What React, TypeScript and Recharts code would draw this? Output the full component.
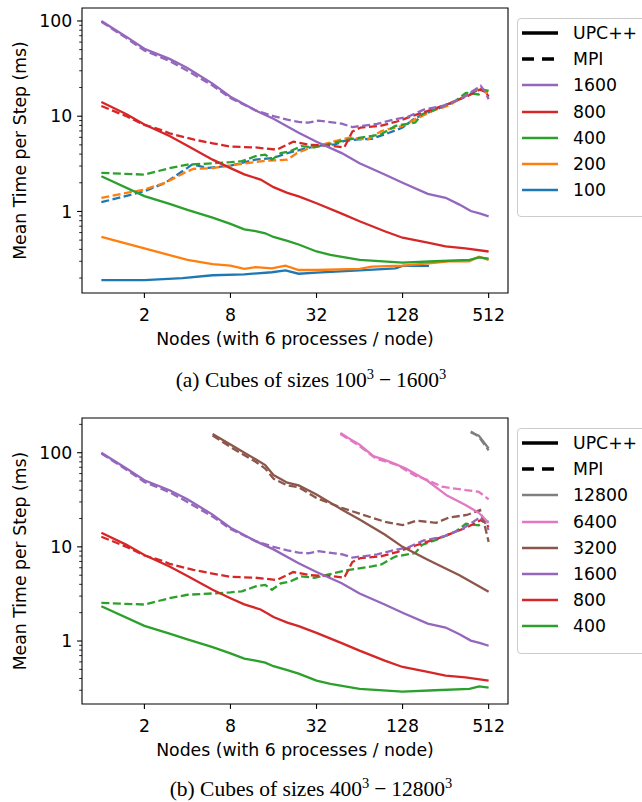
import { LineChart, Line, XAxis, YAxis, ReferenceArea } from "recharts";

type Pt = [number, number];

// axis ticks
const nodeTicks = [2, 8, 32, 128, 512];
const majorTimes = [1, 10, 100];
const minorMantissas = [2, 3, 4, 5, 6, 7, 8, 9];

// [nodes, mean time per step in ms]
const upc100: Pt[] = [[1, 0.19], [2, 0.19], [3.7, 0.2], [6, 0.214], [10, 0.219], [15.6, 0.23], [19.4, 0.241], [24, 0.222], [32, 0.228], [64, 0.241], [114, 0.253], [128, 0.268], [196, 0.268]];
const mpi100: Pt[] = [[1, 1.25], [2, 1.63], [2.8, 2.0], [4, 2.87], [4.3, 3.1], [5.6, 2.87], [8, 3.03], [12, 3.5], [16, 3.65], [20, 4.1], [25, 4.46], [32, 4.87], [43, 5.07], [50, 5.5], [63, 5.7], [78, 5.8], [103, 6.7], [128, 7.6], [157, 9.6], [205, 11.3], [270, 13.3], [437, 19.1], [512, 17.6]];

const upc200: Pt[] = [[1, 0.54], [2, 0.41], [4, 0.31], [6, 0.28], [8, 0.27], [10, 0.25], [12, 0.26], [15.6, 0.253], [19.4, 0.27], [24, 0.243], [32, 0.243], [64, 0.25], [78, 0.263], [128, 0.27], [195, 0.285], [270, 0.3], [375, 0.3], [437, 0.335], [512, 0.31]];
const mpi200: Pt[] = [[1, 1.39], [2, 1.7], [2.8, 2.0], [4, 2.64], [4.4, 2.8], [6, 2.85], [8, 3.05], [14, 3.4], [20, 3.5], [23.4, 4.1], [29, 4.67], [32, 4.87], [54, 5.95], [73, 5.7], [91, 7.0], [128, 7.9], [157, 9.3], [210, 11.5], [270, 13], [437, 19.9], [512, 16.9]];

const upc400: Pt[] = [[1, 2.34], [2, 1.45], [3, 1.2], [4, 1.04], [6, 0.86], [8, 0.74], [10, 0.65], [12, 0.62], [14, 0.59], [16, 0.54], [20, 0.49], [24, 0.45], [32, 0.38], [40, 0.35], [64, 0.31], [128, 0.29], [216, 0.3], [376, 0.31], [440, 0.33], [512, 0.32]];
const mpi400: Pt[] = [[1, 2.54], [2, 2.44], [3, 2.85], [4, 3.1], [6, 3.2], [8, 3.29], [9.6, 3.37], [12, 3.8], [14, 3.95], [15.6, 3.5], [18, 4.1], [21, 4.3], [25, 4.85], [31, 4.7], [39, 5.1], [54, 5.7], [78, 6.2], [91, 6.5], [114, 7.9], [157, 8.6], [175, 10.5], [217, 11.8], [300, 14.5], [355, 17.6], [437, 16.9], [470, 19], [512, 18.4]];

const upc800: Pt[] = [[1, 14.1], [1.5, 10.5], [2, 8.2], [3, 6.2], [4, 4.9], [6, 3.5], [8, 2.85], [10, 2.45], [13, 2.16], [16, 1.8], [20, 1.57], [24, 1.44], [32, 1.22], [48, 0.95], [64, 0.79], [96, 0.62], [128, 0.53], [192, 0.47], [256, 0.43], [352, 0.41], [512, 0.38]];
const mpi800: Pt[] = [[1, 12.8], [1.5, 10], [2, 8.1], [2.6, 7.2], [3, 6.6], [4.4, 5.7], [6, 5.2], [8, 4.8], [12, 4.7], [16.9, 4.45], [22, 5.4], [29, 5.0], [40, 4.9], [50, 4.7], [57, 6.9], [65, 7.6], [89, 7.9], [117, 8.8], [160, 10.4], [248, 12.9], [360, 16.1], [450, 19.2], [485, 18.2], [512, 16.1]];

const upc1600: Pt[] = [[1, 100], [1.5, 68], [2, 51], [3, 40], [4, 32], [6, 22], [8, 16], [12, 11.5], [16, 9.4], [24, 6.7], [32, 5.4], [48, 4.1], [64, 3.2], [96, 2.44], [128, 2.0], [192, 1.53], [256, 1.39], [320, 1.18], [384, 1.01], [448, 0.95], [512, 0.89]];
const mpi1600: Pt[] = [[1, 98], [1.5, 66], [2, 49], [3, 38], [4, 30], [6, 21], [8, 15.5], [12, 11.5], [16, 10], [20, 9.2], [24, 8.7], [28, 8.55], [33, 9.0], [48, 8.35], [57, 7.7], [85, 8.3], [110, 9.2], [138, 9.8], [180, 11.7], [248, 12.9], [335, 15.5], [450, 20.8], [483, 18.1], [512, 15.1]];

const upc3200: Pt[] = [[6, 158], [8, 122], [12, 85], [14, 74], [16, 58], [20, 48], [24, 45], [32, 36], [48, 25], [64, 19.5], [96, 13.5], [128, 10], [192, 7.3], [256, 5.9], [320, 5.0], [512, 3.34]];
const mpi3200: Pt[] = [[6, 152], [8, 115], [12, 80], [14, 68], [16, 53], [20, 45], [24, 43], [32, 33], [48, 26], [64, 22.5], [96, 18.5], [128, 17], [160, 19], [220, 18], [270, 20.5], [360, 21.8], [446, 24.6], [470, 19.3], [512, 11.3]];

const upc6400: Pt[] = [[47, 162], [54, 142], [64, 122], [80, 92], [96, 84], [111, 77], [135, 68], [192, 50], [262, 35], [350, 28], [437, 23], [512, 18]];
const mpi6400: Pt[] = [[47, 158], [63, 120], [83, 87], [114, 75], [123, 71], [157, 57], [188, 52], [242, 43.5], [355, 40], [437, 38.5], [512, 32]];

const upc12800: Pt[] = [[384, 164], [437, 152], [512, 111]];
const mpi12800: Pt[] = [[384, 168], [437, 148], [512, 106]];

const sizesA = ["1600", "800", "400", "200", "100"];
const sizesB = ["12800", "6400", "3200", "1600", "800", "400"];

const upc: Record<string, Pt[]> = { "100": upc100, "200": upc200, "400": upc400, "800": upc800, "1600": upc1600, "3200": upc3200, "6400": upc6400, "12800": upc12800 };
const mpi: Record<string, Pt[]> = { "100": mpi100, "200": mpi200, "400": mpi400, "800": mpi800, "1600": mpi1600, "3200": mpi3200, "6400": mpi6400, "12800": mpi12800 };

const colors: Record<string, string> = {
  "100": "#1f77b4",
  "200": "#ff7f0e",
  "400": "#2ca02c",
  "800": "#d62728",
  "1600": "#9467bd",
  "3200": "#8c564b",
  "6400": "#e377c2",
  "12800": "#7f7f7f",
};

const FONT = "'DejaVu Sans', sans-serif";
const FS = 17.3;
const xDomain: [number, number] = [0.732, 699.4];

const rows = (pts: Pt[]) => pts.map(([n, v]) => ({ n, v }));

const XTick = (p: any) => {
  const { x, y, payload } = p;
  return (
    <g>
      <line x1={x} x2={x} y1={y} y2={y + 4.9} stroke="#000" strokeWidth={1.1} />
      <text x={x} y={y + 27.5} textAnchor="middle" fontSize={FS} fontFamily={FONT} fill="#000">
        {payload.value}
      </text>
    </g>
  );
};

const YTick = (p: any) => {
  const { x, y, payload } = p;
  const major = majorTimes.includes(payload.value);
  return (
    <g>
      <line x1={x} x2={x - (major ? 4.9 : 2.8)} y1={y} y2={y} stroke="#000" strokeWidth={major ? 1.1 : 0.85} />
      {major && (
        <text x={x - 9.8} y={y} dy="0.36em" textAnchor="end" fontSize={FS} fontFamily={FONT} fill="#000">
          {payload.value}
        </text>
      )}
    </g>
  );
};

function yTicksFor(dom: [number, number]) {
  const out: number[] = [...majorTimes];
  [0.1, 1, 10, 100].forEach((d) => minorMantissas.forEach((m) => out.push(m * d)));
  return out.filter((v) => v >= dom[0] && v <= dom[1]).sort((a, b) => a - b);
}

function Legend({ top, sizes }: { top: number; sizes: string[] }) {
  const entries = [
    { label: "UPC++", color: "#000", dash: undefined as string | undefined, w: 3.5 },
    { label: "MPI", color: "#000", dash: "12 8", w: 3.5 },
    ...sizes.map((s) => ({ label: s, color: colors[s], dash: undefined, w: 2.3 })),
  ];
  return (
    <div
      style={{
        position: "absolute",
        left: 517,
        top,
        width: 140,
        height: 16 + entries.length * 26.2,
        border: "1px solid #cccccc",
        borderRadius: 4,
        background: "#fff",
        boxSizing: "border-box",
      }}
    >
      {entries.map((e, i) => (
        <div
          key={e.label}
          style={{ position: "absolute", left: 4, top: 1 + i * 26.2, height: 26, display: "flex", alignItems: "center" }}
        >
          <svg width={36} height={6}>
            <line x1={0} x2={36} y1={3} y2={3} stroke={e.color} strokeWidth={e.w} strokeDasharray={e.dash} />
          </svg>
          <span style={{ marginLeft: 15, fontSize: FS, fontFamily: FONT, lineHeight: "26px", color: "#000" }}>{e.label}</span>
        </div>
      ))}
    </div>
  );
}

function Panel({ top, sizes, yDomain, plotH }: { top: number; sizes: string[]; yDomain: [number, number]; plotH: number }) {
  return (
    <div style={{ position: "absolute", left: 0, top }}>
      <LineChart width={520} height={8 + plotH + 60} margin={{ top: 8, right: 12, bottom: 0, left: 0 }}>
        <XAxis
          type="number"
          dataKey="n"
          scale="log"
          domain={xDomain}
          allowDataOverflow
          ticks={nodeTicks}
          interval={0}
          tick={XTick}
          tickLine={false}
          axisLine={false}
          tickSize={0}
          tickMargin={0}
          height={60}
          label={{ value: "Nodes (with 6 processes / node)", position: "insideBottom", offset: 8, fontSize: FS, fontFamily: FONT, fill: "#000" }}
        />
        <YAxis
          type="number"
          scale="log"
          domain={yDomain}
          allowDataOverflow
          ticks={yTicksFor(yDomain)}
          interval={0}
          tick={YTick}
          tickLine={false}
          axisLine={false}
          tickSize={0}
          tickMargin={0}
          width={82}
          label={{
            value: "Mean Time per Step (ms)",
            angle: -90,
            position: "insideLeft",
            offset: 20,
            style: { textAnchor: "middle" },
            fontSize: FS,
            fontFamily: FONT,
            fill: "#000",
          }}
        />
        {[...sizes].reverse().flatMap((s) => [
          <Line
            key={"u" + s}
            data={rows(upc[s])}
            dataKey="v"
            type="linear"
            stroke={colors[s]}
            strokeWidth={2.3}
            dot={false}
            isAnimationActive={false}
          />,
          <Line
            key={"m" + s}
            data={rows(mpi[s])}
            dataKey="v"
            type="linear"
            stroke={colors[s]}
            strokeWidth={2.3}
            strokeDasharray="8 3.5"
            dot={false}
            isAnimationActive={false}
          />,
        ])}
        <ReferenceArea
          x1={xDomain[0]}
          x2={xDomain[1]}
          y1={yDomain[0]}
          y2={yDomain[1]}
          fill="none"
          stroke="#000"
          strokeWidth={1.1}
          ifOverflow="visible"
        />
      </LineChart>
    </div>
  );
}

const capStyle: React.CSSProperties = {
  position: "absolute",
  left: 0,
  width: 622,
  textAlign: "center",
  fontFamily: "'Liberation Serif', serif",
  fontSize: 21.5,
  lineHeight: "24px",
  color: "#000",
};
const sup: React.CSSProperties = { fontSize: 14.5, position: "relative", top: -8 };
const minus: React.CSSProperties = { margin: "0 5px" };

export default function App() {
  return (
    <div style={{ position: "absolute", left: 0, top: 0, width: 642, height: 802, overflow: "hidden", background: "#fff" }}>
      <Panel top={0} sizes={sizesA} yDomain={[0.1393, 136.8]} plotH={285} />
      <Legend top={18} sizes={sizesA} />
      <div style={{ ...capStyle, top: 368 }}>
        (a) Cubes of sizes 100<span style={sup}>3</span>
        <span style={minus}>−</span>1600<span style={sup}>3</span>
      </div>
      <Panel top={410} sizes={sizesB} yDomain={[0.2143, 233.7]} plotH={286} />
      <Legend top={428} sizes={sizesB} />
      <div style={{ ...capStyle, top: 777 }}>
        (b) Cubes of sizes 400<span style={sup}>3</span>
        <span style={minus}>−</span>12800<span style={sup}>3</span>
      </div>
    </div>
  );
}
